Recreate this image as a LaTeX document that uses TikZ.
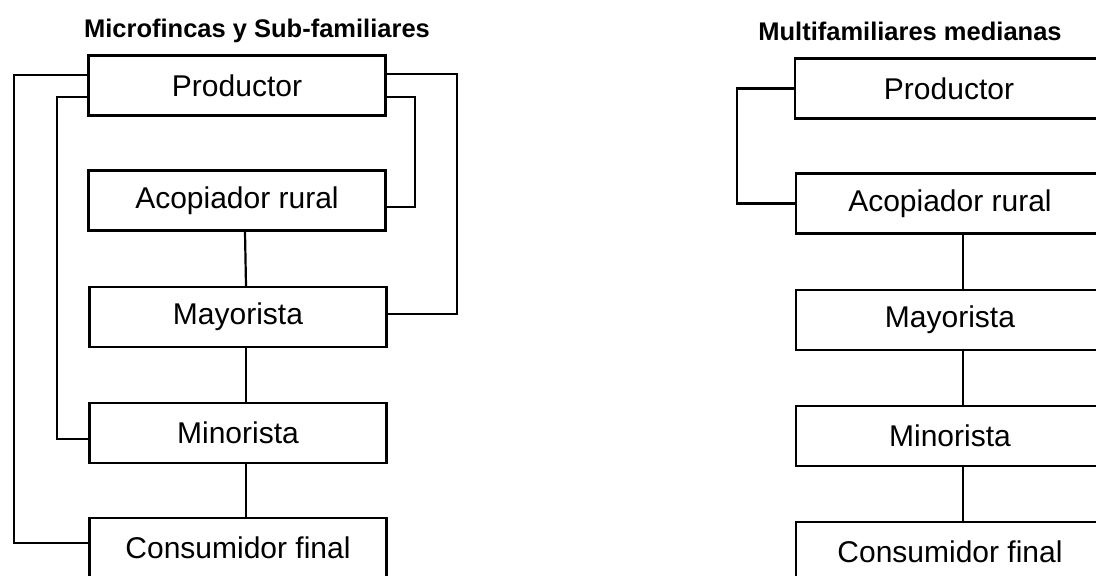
\documentclass[tikz,border=0pt]{standalone}
\usepackage{fontspec}
\setmainfont{Liberation Sans}

\tikzstyle{stage}=[draw,line width=2.2pt,minimum width=297pt,minimum height=60pt,inner sep=0pt,font=\fontsize{30}{36}\selectfont]
\tikzstyle{wide stage}=[stage,minimum width=308pt]
\tikzstyle{link}=[draw,line width=2.2pt]
\tikzstyle{heading}=[anchor=base,inner sep=0pt,font=\bfseries\fontsize{25.5}{30}\selectfont]

\begin{document}
\begin{tikzpicture}[x=1pt,y=-1pt]
    \useasboundingbox (0,0) rectangle (1096,576);
    \clip (0,0) rectangle (1096,576);

    % titles
    \node[heading] (headL) at (257,37) {Microfincas y Sub-familiares};
    \node[heading] (headR) at (910,40) {Multifamiliares medianas};

    % left chain
    \foreach \pos/\name/\txt in {{(237,85.5)/prodL/Productor}, {(237,200.5)/acopL/Acopiador rural},
        {(238,317)/mayL/Mayorista}, {(238,433)/minL/Minorista}, {(238,548)/consL/Consumidor final}}
    \node[stage] (\name) at \pos {\txt};

    % right chain
    \foreach \pos/\name/\txt in {{(949,88.5)/prodR/Productor}, {(950,203.5)/acopR/Acopiador rural},
        {(950,320)/mayR/Mayorista}, {(950,436)/minR/Minorista}, {(950,552)/consR/Consumidor final}}
    \node[wide stage] (\name) at \pos {\txt};

    % straight links down the chain
    \foreach \source/\dest in {acopL/mayL, mayL/minL, minL/consL}
    \path[link] ([xshift=8pt]\source.south) -- ([xshift=8pt]\dest.north);
    \foreach \source/\dest in {acopR/mayR, mayR/minR, minR/consR}
    \path[link] ([xshift=13pt]\source.south) -- ([xshift=13pt]\dest.north);

    % side links from the producer
    \path[link] ([yshift=10.5pt]prodL.west) -| (14,300) |- ([yshift=5pt]consL.west);
    \path[link] ([yshift=-11.5pt]prodL.west) -| (57,300) |- ([yshift=-6pt]minL.west);
    \path[link] ([yshift=-11.5pt]prodL.east) -| (415,150) |- ([yshift=-6.5pt]acopL.east);
    \path[link] ([yshift=11.5pt]prodL.east) -| (457,200) |- ([yshift=3pt]mayL.east);
    \path[link] (prodR.west) -| (737,150) |- (acopR.west);

\end{tikzpicture}
\end{document}
